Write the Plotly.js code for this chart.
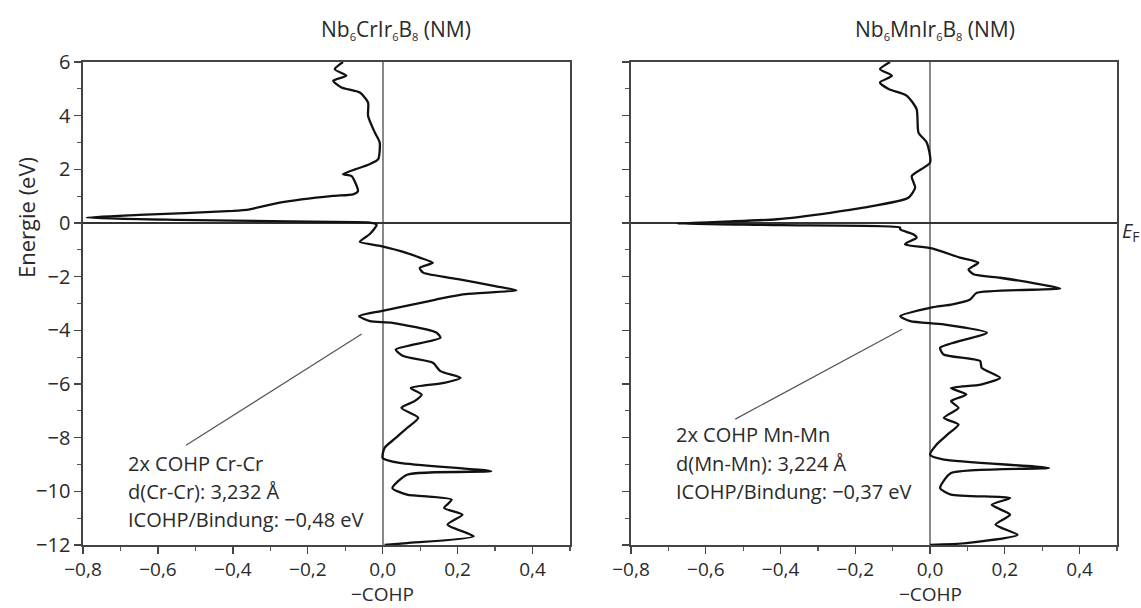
<!DOCTYPE html>
<html>
<head>
<meta charset="utf-8">
<script src="https://cdn.plot.ly/plotly-3.0.1.min.js"></script>
<style>html,body{margin:0;padding:0;background:#fff;}#chart{width:1141px;height:608px;}</style>
</head>
<body>
<div id="chart"></div>
<script>
// ---- Data: Nb6CrIr6B8 (NM), 2x COHP Cr-Cr ----
const crEnergy = [6.0, 5.73, 5.49, 5.30, 5.05, 4.86, 4.49, 3.99, 3.37, 3.00, 2.38, 2.19, 1.82, 1.75, 1.19, 1.07, 1.01, 0.76, 0.51, 0.45, 0.30, 0.20, 0.12, 0.06, 0.02, -0.05, -0.11, -0.42, -0.70, -0.86, -1.11, -1.29, -1.48, -1.67, -1.85, -2.10, -2.35, -2.51, -2.65, -2.80, -2.91, -3.28, -3.47, -3.66, -3.72, -4.09, -4.28, -4.71, -4.96, -5.21, -5.52, -5.77, -5.96, -6.15, -6.39, -6.64, -6.89, -7.26, -7.64, -8.01, -8.38, -8.76, -8.94, -9.25, -9.38, -9.88, -10.12, -10.31, -10.62, -10.87, -11.24, -11.68, -11.93, -12.0];
const crCohp   = [-0.106, -0.128, -0.097, -0.132, -0.110, -0.061, -0.039, -0.039, -0.021, -0.008, -0.012, -0.035, -0.106, -0.083, -0.066, -0.079, -0.133, -0.275, -0.355, -0.40, -0.65, -0.79, -0.55, -0.25, -0.04, -0.017, -0.017, -0.035, -0.061, -0.004, 0.063, 0.099, 0.134, 0.099, 0.108, 0.205, 0.30, 0.357, 0.22, 0.16, 0.124, -0.004, -0.063, -0.034, 0.026, 0.144, 0.154, 0.035, 0.055, 0.134, 0.154, 0.208, 0.164, 0.075, 0.104, 0.085, 0.050, 0.095, 0.065, 0.035, 0.005, 0.0, 0.045, 0.29, 0.065, 0.026, 0.065, 0.184, 0.164, 0.213, 0.173, 0.243, 0.065, 0.005];

// ---- Data: Nb6MnIr6B8 (NM), 2x COHP Mn-Mn ----
const mnEnergy = [6.0, 5.73, 5.49, 5.24, 4.99, 4.74, 4.24, 3.37, 3.00, 2.25, 1.75, 1.32, 0.94, 0.57, 0.38, 0.14, 0.05, -0.02, -0.08, -0.17, -0.24, -0.42, -0.55, -0.73, -0.80, -0.95, -1.29, -1.48, -1.73, -1.91, -2.04, -2.25, -2.44, -2.60, -2.85, -3.03, -3.16, -3.47, -3.66, -3.78, -4.09, -4.65, -4.90, -5.15, -5.40, -5.77, -6.02, -6.15, -6.39, -6.64, -6.89, -7.26, -7.51, -7.88, -8.26, -8.63, -8.82, -9.13, -9.32, -9.88, -10.12, -10.25, -10.50, -10.87, -11.24, -11.62, -11.93, -12.0];
const mnCohp   = [-0.107, -0.134, -0.102, -0.134, -0.111, -0.062, -0.036, -0.031, -0.009, 0.0, -0.049, -0.040, -0.058, -0.178, -0.267, -0.41, -0.55, -0.677, -0.40, -0.08, -0.08, -0.045, -0.036, -0.062, -0.067, 0.005, 0.080, 0.129, 0.103, 0.116, 0.187, 0.28, 0.348, 0.125, 0.107, 0.06, 0.0, -0.080, -0.053, 0.036, 0.152, 0.027, 0.036, 0.134, 0.138, 0.187, 0.136, 0.056, 0.097, 0.056, 0.076, 0.037, 0.076, 0.047, 0.017, 0.0, 0.037, 0.318, 0.056, 0.027, 0.056, 0.214, 0.165, 0.214, 0.175, 0.234, 0.097, 0.0];

// ---- Tick labels ----
const xTickVals = [-0.8, -0.6, -0.4, -0.2, 0.0, 0.2, 0.4];
const xTickText = ['\u22120,8', '\u22120,6', '\u22120,4', '\u22120,2', '0,0', '0,2', '0,4'];
const yTickVals = [6, 4, 2, 0, -2, -4, -6, -8, -10, -12];
const yTickText = ['6', '4', '2', '0', '\u22122', '\u22124', '\u22126', '\u22128', '\u221210', '\u221212'];

// ---- Texts ----
const sub = s => '<sub><span style="font-size:11px">' + s + '</span></sub>';
const titles = ['Nb' + sub('6') + 'CrIr' + sub('6') + 'B' + sub('8') + ' (NM)',
                'Nb' + sub('6') + 'MnIr' + sub('6') + 'B' + sub('8') + ' (NM)'];
const crLabel = ['2x COHP Cr-Cr', 'd(Cr-Cr): 3,232 \u00c5', 'ICOHP/Bindung: \u22120,48 eV'];
const mnLabel = ['2x COHP Mn-Mn', 'd(Mn-Mn): 3,224 \u00c5', 'ICOHP/Bindung: \u22120,37 eV'];

const FONT = 'Open Sans, Noto Sans, sans-serif';
const TXT = '#2a2a2a';
const W = 1141, H = 608;

const traces = [
  {x: crCohp, y: crEnergy, xaxis: 'x', yaxis: 'y', mode: 'lines',
   line: {color: '#111', width: 2.3, shape: 'spline', smoothing: 0.6}, hoverinfo: 'skip'},
  {x: mnCohp, y: mnEnergy, xaxis: 'x2', yaxis: 'y2', mode: 'lines',
   line: {color: '#111', width: 2.3, shape: 'spline', smoothing: 0.6}, hoverinfo: 'skip'}
];

function xax(domain) {
  return {
    domain: domain, range: [-0.8, 0.5], tickvals: xTickVals, ticktext: xTickText,
    ticks: 'outside', ticklen: 7, tickwidth: 1.3, tickcolor: '#444',
    minor: {ticks: 'outside', dtick: 0.1, tick0: 0, ticklen: 4, tickcolor: '#555', showgrid: false},
    showline: true, mirror: true, linecolor: '#444', linewidth: 1.6,
    showgrid: false, zeroline: true, zerolinecolor: '#8a8a8a', zerolinewidth: 2,
    tickfont: {family: FONT, size: 19, color: TXT}, fixedrange: true
  };
}
function yax(domain, anchor, labels) {
  return {
    domain: domain, anchor: anchor, range: [-12, 6], tickvals: yTickVals, ticktext: yTickText,
    showticklabels: labels,
    ticks: 'outside', ticklen: 7, tickwidth: 1.3, tickcolor: '#444',
    minor: {ticks: 'outside', dtick: 1, tick0: 0, ticklen: 4, tickcolor: '#555', showgrid: false},
    showline: true, mirror: true, linecolor: '#444', linewidth: 1.6,
    showgrid: false, zeroline: true, zerolinecolor: '#333', zerolinewidth: 2.2,
    tickfont: {family: FONT, size: 20, color: TXT}, fixedrange: true
  };
}

const yDom = [1 - 545 / H, 1 - 62 / H];
const layout = {
  width: W, height: H,
  margin: {l: 0, r: 0, t: 0, b: 0},
  paper_bgcolor: '#fff', plot_bgcolor: '#fff',
  showlegend: false,
  xaxis: Object.assign(xax([83 / W, 570 / W]), {anchor: 'y'}),
  yaxis: yax(yDom, 'x', true),
  xaxis2: Object.assign(xax([631 / W, 1117 / W]), {anchor: 'y2'}),
  yaxis2: yax(yDom, 'x2', false),
  font: {family: FONT, color: TXT},
  annotations: [],
  shapes: [
    {type: 'line', xref: 'x', yref: 'y', x0: -0.525, y0: -8.28, x1: -0.056, y1: -4.14,
     line: {color: '#555', width: 1.2}},
    {type: 'line', xref: 'x2', yref: 'y2', x0: -0.521, y0: -7.31, x1: -0.075, y1: -3.96,
     line: {color: '#555', width: 1.2}}
  ]
};

const ann = layout.annotations;
// panel titles
ann.push({xref: 'x', yref: 'paper', x: 0.035, y: 1 - 30 / H, text: titles[0], showarrow: false,
  font: {family: FONT, size: 21, color: TXT}, xanchor: 'center', yanchor: 'middle'});
ann.push({xref: 'x2', yref: 'paper', x: 0.013, y: 1 - 30 / H, text: titles[1], showarrow: false,
  font: {family: FONT, size: 21, color: TXT}, xanchor: 'center', yanchor: 'middle'});
// x-axis titles
ann.push({xref: 'x', yref: 'paper', x: 0, y: 0, text: '\u2212COHP', showarrow: false,
  font: {family: FONT, size: 19, color: TXT}, xanchor: 'center', yanchor: 'bottom', borderpad: 0});
ann.push({xref: 'x2', yref: 'paper', x: 0, y: 0, text: '\u2212COHP', showarrow: false,
  font: {family: FONT, size: 19, color: TXT}, xanchor: 'center', yanchor: 'bottom', borderpad: 0});
// y-axis title
ann.push({xref: 'paper', yref: 'paper', x: 26 / W, y: 1 - 218 / H, text: 'Energie (eV)', textangle: -90,
  showarrow: false, font: {family: FONT, size: 22, color: TXT}, xanchor: 'center', yanchor: 'middle'});
// E_F label at the right edge
ann.push({xref: 'paper', yref: 'y2', x: 1, y: -0.3, text: '<i>E</i><sub>F</sub>', showarrow: false,
  font: {family: FONT, size: 20, color: TXT}, xanchor: 'right', yanchor: 'middle', borderpad: 0});
// bond annotations
const crY = [-8.96, -10.0, -11.04];
const mnY = [-7.87, -8.96, -10.0];
crLabel.forEach((t, i) => ann.push({xref: 'x', yref: 'y', x: -0.685, y: crY[i], text: t, showarrow: false,
  font: {family: FONT, size: 20, color: TXT}, xanchor: 'left', yanchor: 'middle'}));
mnLabel.forEach((t, i) => ann.push({xref: 'x2', yref: 'y2', x: -0.684, y: mnY[i], text: t, showarrow: false,
  font: {family: FONT, size: 20, color: TXT}, xanchor: 'left', yanchor: 'middle'}));

Plotly.newPlot('chart', traces, layout, {displayModeBar: false, staticPlot: true});
</script>
</body>
</html>
